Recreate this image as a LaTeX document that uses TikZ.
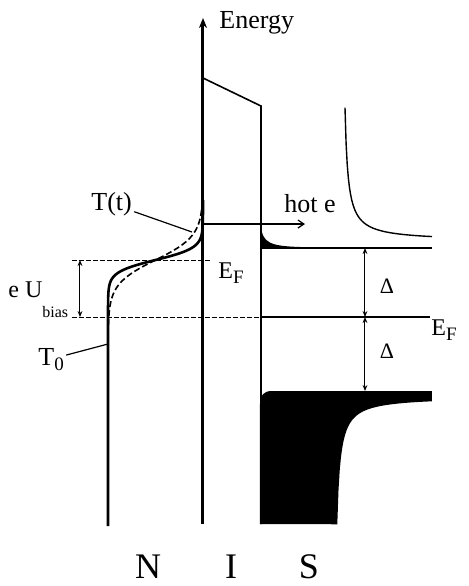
\documentclass[tikz,border=0pt]{standalone}
\usepackage{fontspec}
\setmainfont{Liberation Serif}
\usetikzlibrary{arrows.meta}

\tikzset{
	lbl/.style={inner sep=1pt, font=\fontsize{13}{15}\selectfont},
	layer/.style={inner sep=0pt, font=\fontsize{18}{21}\selectfont},
	gapline/.style={line width=0.7pt},
	levelline/.style={line width=0.5pt, dash pattern=on 2.5pt off 1pt},
	dim/.style={line width=0.5pt, {Stealth[length=3pt,width=2.4pt]}-{Stealth[length=3pt,width=2.4pt]}},
	leader/.style={line width=0.6pt}
}
\newcommand{\lowsub}[1]{\raisebox{-2.5pt}{\fontsize{9.5}{10}\selectfont #1}}

\begin{document}
\begin{tikzpicture}[x=0.5pt, y=-0.5pt]
				\useasboundingbox (0,0) rectangle (469,586);
				% Key points
				\coordinate (ax-bot) at (203,524);
				\coordinate (ax-top) at (203,18);
				\coordinate (hot-start) at (203,224);
				\coordinate (hot-end) at (305,224);
				\coordinate (tt-pt) at (192,232);
				\coordinate (t0-pt) at (108,344);
				\coordinate (ub-top) at (80,260);
				\coordinate (ub-bot) at (80,317);
				
				% Occupied states of S below the gap
				\fill (260,524) -- (260,404) .. controls (260,395) and (264,391) .. (272,391)
					-- (432,391) -- (432,401)
					-- plot[domain=98:3.3, samples=80] ({334+\x}, {397+420/\x}) -- cycle;
				% Hot quasiparticles just above the gap
				\fill (261,225) .. controls (262,243) and (270,246) .. (300,247) -- (300,248) -- (261,248) -- cycle;
				% Quasiparticle density of states above the gap
				\draw[gapline] plot[domain=3:90, samples=80] ({342+\x}, {241-400/\x});
				
				% Gap edges and Fermi level of S
				\draw[gapline] (261,248) -- (432,248);
				\draw[gapline] (261,317) -- (430,317);
				
				% Levels on the N side
				\draw[levelline] (72,260) -- (212,260);
				\draw[levelline] (72,317) -- (261,317);
				
				% Barrier
				\draw[line width=0.8pt] (203,78) -- (261,106) -- (261,524);
				
				% Energy axis
				\draw[line width=1.5pt, -{Stealth[length=5pt,width=4pt]}] (ax-bot) -- (ax-top);
				\node[lbl, anchor=base west] (energy) at (217,28) {Energy};
				
				% Fermi functions in N (T0 solid, T(t) dashed)
				\draw[line width=1.3pt] (108,526) -- plot[domain=310:206, samples=80] ({108+95/(1+exp((\x-260)/6))}, \x) -- (203,200);
				\draw[line width=0.8pt, dash pattern=on 3pt off 1.5pt] plot[domain=325:196, samples=80] ({108+95/(1+exp((\x-260)/12))}, \x);
				
				% Hot electrons leaving through the barrier
				\draw[line width=0.6pt, -{Straight Barb[length=3pt,width=4pt]}] (hot-start) -- (hot-end);
				\node[lbl, anchor=base west] (hot) at (282,212) {hot e};
				
				% Gap arrows
				\foreach \a/\b/\yl [count=\i] in {248/317/293, 317/391/358} {
					\coordinate (gap-top-\i) at (365,\a);
					\coordinate (gap-bot-\i) at (365,\b);
					\draw[dim] (gap-top-\i) -- (gap-bot-\i);
					\node[lbl, font=\fontsize{11}{13}\selectfont, anchor=base] (delta-\i) at (387,\yl) {Δ};
				}
				
				% Bias
				\draw[dim] (ub-top) -- (ub-bot);
				\node[lbl, font=\fontsize{12}{14}\selectfont, anchor=base west] (ubias) at (6,297) {e U\raisebox{-10pt}{\fontsize{8}{9}\selectfont bias}};
				
				% Fermi level labels
				\node[lbl, font=\fontsize{12}{14}\selectfont, anchor=base west] (ef-n) at (216,278) {E\lowsub{F}};
				\node[lbl, font=\fontsize{12}{14}\selectfont, anchor=base west] (ef-s) at (429,335) {E\lowsub{F}};
				
				% Temperatures
				\node[lbl, anchor=base west] (tt) at (89,210) {T(t)};
				\draw[leader] (tt) -- (tt-pt);
				\node[lbl, anchor=base west] (t0) at (36,365) {T\lowsub{0}};
				\draw[leader] (t0) -- (t0-pt);
				
				% Layers
				\foreach \x/\t in {148/N, 231/I, 309/S} {
					\node[layer, anchor=base] (layer-\t) at (\x,578) {\t};
				}
				
			\end{tikzpicture}
\end{document}
